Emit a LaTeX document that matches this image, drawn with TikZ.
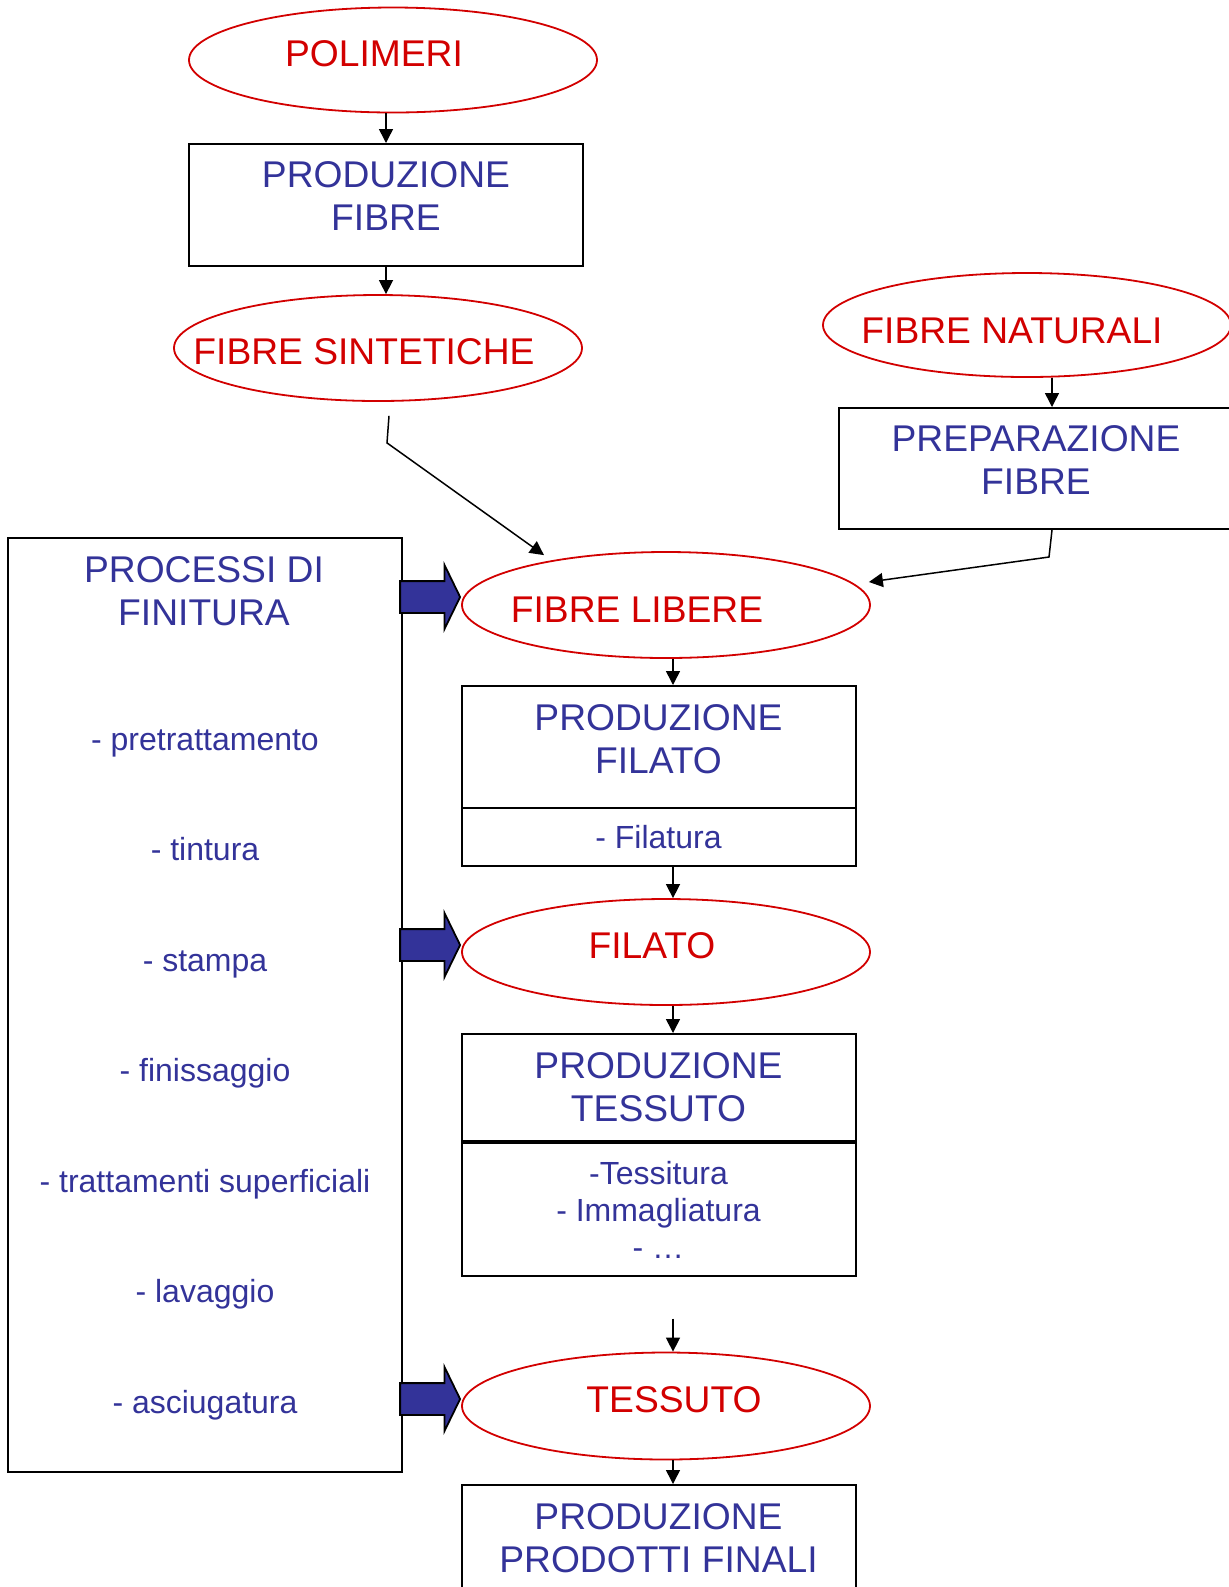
\documentclass[tikz,border=0pt]{standalone}
\usepackage{fontspec}
\setmainfont{Liberation Sans}
\usepackage{tikz}
\usetikzlibrary{calc, positioning}
\usetikzlibrary{shapes, arrows, arrows.meta}
\definecolor{testoblu}{RGB}{51,51,153}
\definecolor{rosso}{RGB}{210,0,0}
\newcommand{\spinta}{\rule[-8.5pt]{0pt}{8.5pt}}% pushes two-line titles to the top of their box
\tikzset{
    auto,node distance =0pt and 0pt,% the lower boxes sit right under the upper ones
}

\begin{document}
\begin{tikzpicture}
            [x=0.5pt,y=-0.5pt,
            ovale/.style={ellipse,draw=rosso,line width=0.9pt,minimum width=204pt,minimum height=52.5pt,inner sep=0pt},
            scritta/.style={text=rosso,font=\fontsize{18.6}{22}\selectfont},
            scatola/.style={rectangle,draw,line width=1pt,text=testoblu,align=center,minimum width=197pt,inner sep=0pt},
            grande/.style={font=\fontsize{18.6}{21.5}\selectfont},
            piccolo/.style={font=\fontsize{16}{18.5}\selectfont},
            voce/.style={text=testoblu,piccolo,text height=11.7pt,text depth=3.4pt},
            freccia/.style={-{Triangle[length=7pt,width=7pt]},line width=0.75pt},
            frecciona/.style={single arrow,draw,fill=testoblu,line width=0.9pt,minimum height=30pt,minimum width=31pt,single arrow head extend=8pt,single arrow tip angle=128,inner xsep=0pt,inner ysep=7.5pt,anchor=tip}]
            \useasboundingbox (0,0) rectangle (1229,1587);
            % left column
            \node(polimeri) [ovale,label={[scritta,xshift=-9.5pt,yshift=3pt]center:POLIMERI}] at (393,60) {};
            \node(prodfibre) [scatola,grande,minimum height=61pt] at (386,205) {PRODUZIONE\\FIBRE\spinta};
            \node(sintetiche) [ovale,minimum height=53pt,label={[scritta,xshift=-7pt,yshift=-2pt]center:FIBRE SINTETICHE}] at (378,348) {};
            \node(finitura) [scatola,minimum height=467pt] at (205,1005) {};
            \node(titolo) [text=testoblu,grande,align=center] at (204,591) {PROCESSI DI\\FINITURA};
            \foreach \testo [count=\i from 0] in {pretrattamento, tintura, stampa, finissaggio, trattamenti superficiali, lavaggio, asciugatura}
                \node(voce\i) [voce] at (205,742+110.5*\i) {- \testo};
            % right column
            \node(naturali) [ovale,minimum height=52pt,label={[scritta,xshift=-7.5pt,yshift=-3pt]center:FIBRE NATURALI}] at (1027,325) {};
            \node(preparazione) [scatola,grande,minimum height=60.5pt] at (1036,468.5) {PREPARAZIONE\\FIBRE\spinta};
            % middle column
            \node(libere) [ovale,minimum height=53pt,label={[scritta,xshift=-14.5pt,yshift=-2.5pt]center:FIBRE LIBERE}] at (666,605) {};
            \node(prodfilato) [scatola,grande,minimum height=61pt] at (658.5,747) {PRODUZIONE\\FILATO\spinta};
            \node(filatura) [scatola,piccolo,minimum height=29pt,below=-1pt of prodfilato] {- Filatura};
            \node(filato) [ovale,minimum height=53pt,label={[scritta,xshift=-7pt,yshift=3pt]center:FILATO}] at (666,952) {};
            \node(prodtessuto) [scatola,grande,minimum height=53.5pt] at (658.5,1087.5) {PRODUZIONE\\TESSUTO};
            \node(tessitura) [scatola,piccolo,minimum height=66.5pt,below=of prodtessuto] {-Tessitura\\- Immagliatura\\- …};
            \node(tessuto) [ovale,minimum height=53.5pt,label={[scritta,xshift=4pt,yshift=3pt]center:TESSUTO}] at (666,1406) {};
            \node(prodotti) [scatola,grande,minimum height=61pt] at (658.5,1546) {PRODUZIONE\\PRODOTTI FINALI\spinta};
            % big arrows
            \node(f1) [frecciona] at ([yshift=4pt]libere.west) {};
            \node(f2) [frecciona] at ([yshift=3.5pt]filato.west) {};
            \node(f3) [frecciona] at ([yshift=3.5pt]tessuto.west) {};
            % connectors
            \coordinate (pn) at ($(preparazione.north)+(8pt,0)$);
            \coordinate (asse) at ($(libere.south)+(3.5pt,0)$);
            \draw[freccia] (prodfibre.north |- polimeri.south) -- (prodfibre.north);
            \draw[freccia] (prodfibre.south) -- (prodfibre.south |- sintetiche.north);
            \draw[freccia] ($(sintetiche.south)+(5.5pt,-7pt)$) -- ++(-1pt,-13.5pt) -- ($(libere.north)+(-61pt,-2pt)$);
            \draw[freccia] (pn |- naturali.south) -- (pn);
            \draw[freccia] (pn |- preparazione.south) -- ++(-1.5pt,-13.5pt) -- ($(libere.east)+(-1pt,11.5pt)$);
            \draw[freccia] (asse) -- (asse |- prodfilato.north);
            \draw[freccia] (asse |- filatura.south) -- (asse |- filato.north);
            \draw[freccia] (asse |- filato.south) -- (asse |- prodtessuto.north);
            \draw[freccia] ($(asse |- tessuto.north)+(0,16.5pt)$) -- (asse |- tessuto.north);
            \draw[freccia] (asse |- tessuto.south) -- (asse |- prodotti.north);
        \end{tikzpicture}
\end{document}
